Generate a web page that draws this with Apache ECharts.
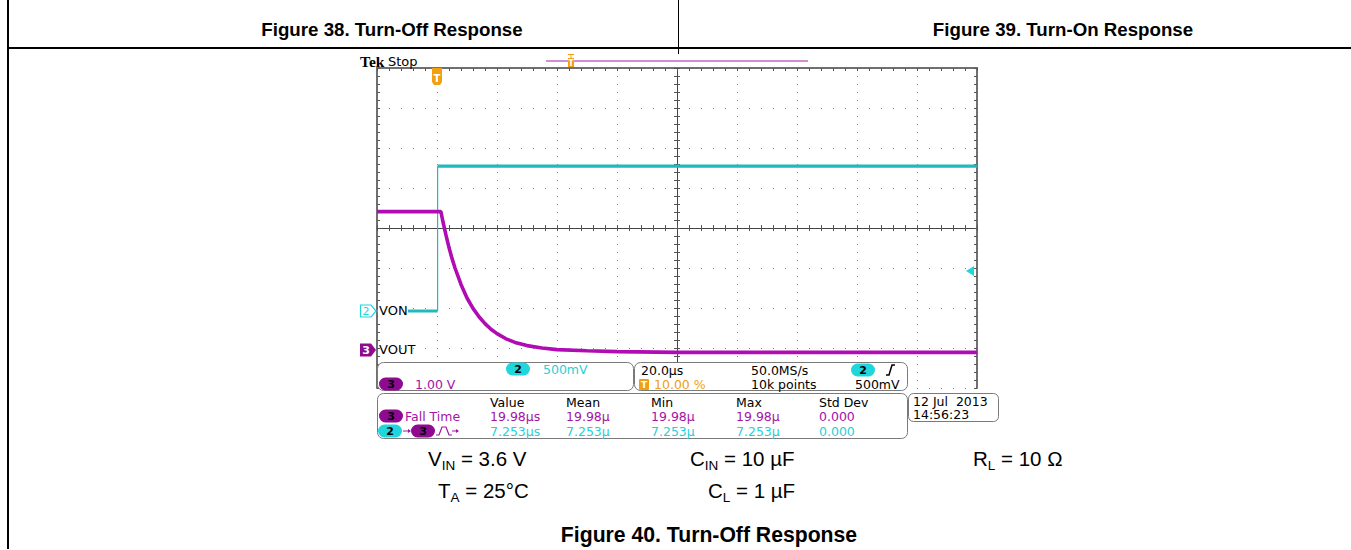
<!DOCTYPE html>
<html>
<head>
<meta charset="utf-8">
<script src="https://cdn.jsdelivr.net/npm/echarts@6/dist/echarts.min.js"></script>
<style>
html,body{margin:0;padding:0;background:#fff;width:1351px;height:550px;overflow:hidden;}
#chart{position:absolute;left:0;top:0;width:1351px;height:550px;}
.t{position:absolute;white-space:nowrap;font-family:"Liberation Sans",Arial,sans-serif;color:#000;line-height:1;}
.b{font-weight:bold;transform:translate(-50%,-50%);}
.h{font-size:18.7px;}
.f{font-size:21.2px;}
.p{font-size:20.5px;transform:translateY(-50%);}
.p sub{font-size:13.5px;vertical-align:-4px;line-height:0;}
.ln{position:absolute;background:#000;}
</style>
</head>
<body>
<div id="chart"></div>
<div class="ln" style="left:7px;top:0;width:2px;height:549px"></div>
<div class="ln" style="left:7px;top:47px;width:1344px;height:2px"></div>
<div class="ln" style="left:678px;top:0;width:1px;height:54px"></div>
<div class="t b h" style="left:392px;top:30px">Figure 38. Turn-Off Response</div>
<div class="t b h" style="left:1063px;top:30px">Figure 39. Turn-On Response</div>
<div class="t p" style="left:428px;top:459px">V<sub>IN</sub> = 3.6 V</div>
<div class="t p" style="left:690px;top:459px">C<sub>IN</sub> = 10 µF</div>
<div class="t p" style="left:973px;top:459px">R<sub>L</sub> = 10 Ω</div>
<div class="t p" style="left:438px;top:491px">T<sub>A</sub> = 25°C</div>
<div class="t p" style="left:708px;top:491px">C<sub>L</sub> = 1 µF</div>
<div class="t b f" style="left:709px;top:535px">Figure 40. Turn-Off Response</div>
<script>
// ---- data read from the scope screen ----
// time in microseconds relative to trigger (20 us/div, trigger at 10 %)
const vonTime  = [-20, 0.2, 0.2, 180];
const vonVolts = [0.0, 0.0, 1.81, 1.81];          // CH2, 500 mV/div
const voutTime  = [-20, 1.3, 2, 3, 4, 5, 6, 8, 10, 12, 14, 16, 18, 20, 23, 26, 30, 35, 40, 50, 60, 80, 180];
const voutVolts = [3.46, 3.46, 3.20, 2.87, 2.56, 2.29, 2.05, 1.64, 1.30, 1.04, 0.83, 0.66, 0.52, 0.41, 0.28, 0.19, 0.11, 0.05, 0.01, -0.02, -0.04, -0.06, -0.06]; // CH3, 1 V/div
const trigLevelVolts = 0.5;
const chLabels = ['VON', 'VOUT'];
const scaleText = ['500mV', '1.00 V'];
const horizText = ['20.0µs', '50.0MS/s', '10.00 %', '10k points', '500mV'];
const measHeader = ['Value', 'Mean', 'Min', 'Max', 'Std Dev'];
const measRow1 = ['19.98µs', '19.98µ', '19.98µ', '19.98µ', '0.000'];
const measRow2 = ['7.253µs', '7.253µ', '7.253µ', '7.253µ', '0.000'];
const dateText = ['12 Jul  2013', '14:56:23'];

const CYAN = '#22b9bd', CYAN_T = '#1fd0da', CYAN_P = '#1ed6dc';
const MAG = '#b00cb4', MAG_T = '#a412a6', MAG_P = '#8e0a90';
const ORANGE = '#f0a010';
const GRID = {left: 377, top: 68, width: 600, height: 320};
const MONO = '"DejaVu Sans", Verdana, sans-serif';
const FS = '12.5px ';

const chart = echarts.init(document.getElementById('chart'), null, {renderer: 'svg'});

const borderColor = '#707070';
const dotColor = '#8a8a8a';
const off = {show: false};
function divAxis(extra) {
  return Object.assign({type: 'value', axisLabel: off, splitLine: off, axisTick: off, minorTick: off,
    axisLine: {show: false, onZero: false}, splitArea: off}, extra);
}
const tickStyle = {color: '#555', width: 1};

const xAxis = [
  divAxis({min: -5, max: 5, interval: 1, position: 'bottom',
    splitLine: {show: true, lineStyle: {color: dotColor, width: 1, type: [1, 7]}}}),
  divAxis({min: -5, max: 5, interval: 1, position: 'top',
    axisLine: {show: true, onZero: false, lineStyle: {color: borderColor, width: 2}},
    axisTick: {show: true, inside: true, length: 3, lineStyle: tickStyle},
    minorTick: {show: true, splitNumber: 5, length: 3, lineStyle: tickStyle}}),
  divAxis({min: -5, max: 5, interval: 1, position: 'bottom',
    axisLine: {show: true, onZero: true, onZeroAxisIndex: 0, lineStyle: {color: '#444', width: 1}},
    axisTick: {show: true, inside: true, length: 3, lineStyle: tickStyle},
    minorTick: {show: true, splitNumber: 5, length: 3, lineStyle: tickStyle}}),
  divAxis({min: -5, max: 5, interval: 1, position: 'bottom',
    axisLine: {show: false, onZero: true, onZeroAxisIndex: 0},
    axisTick: {show: true, inside: false, length: 3, lineStyle: tickStyle},
    minorTick: {show: true, splitNumber: 5, length: 3, lineStyle: tickStyle}}),
  {type: 'value', min: -20, max: 180, show: false}
];
const yAxis = [
  divAxis({min: -4, max: 4, interval: 1, position: 'left',
    axisLine: {show: true, onZero: false, lineStyle: {color: borderColor, width: 2}},
    axisTick: {show: true, inside: true, length: 3, lineStyle: tickStyle},
    minorTick: {show: true, splitNumber: 5, length: 3, lineStyle: tickStyle},
    splitLine: {show: true, lineStyle: {color: dotColor, width: 1, type: [1, 11]}}}),
  divAxis({min: -4, max: 4, interval: 1, position: 'right',
    axisLine: {show: true, onZero: false, lineStyle: {color: borderColor, width: 2}},
    axisTick: {show: true, inside: true, length: 3, lineStyle: tickStyle},
    minorTick: {show: true, splitNumber: 5, length: 3, lineStyle: tickStyle}}),
  divAxis({min: -4, max: 4, interval: 1, position: 'left',
    axisLine: {show: true, onZero: true, onZeroAxisIndex: 0, lineStyle: {color: '#444', width: 1}},
    axisTick: {show: true, inside: true, length: 3, lineStyle: tickStyle},
    minorTick: {show: true, splitNumber: 5, length: 3, lineStyle: tickStyle}}),
  divAxis({min: -4, max: 4, interval: 1, position: 'left',
    axisLine: {show: false, onZero: true, onZeroAxisIndex: 0},
    axisTick: {show: true, inside: false, length: 3, lineStyle: tickStyle},
    minorTick: {show: true, splitNumber: 5, length: 3, lineStyle: tickStyle}}),
  // CH2: 0.5 V/div, ground 2.075 div below centre
  {type: 'value', min: -0.9625, max: 3.0375, show: false},
  // CH3: 1 V/div, ground 3.05 div below centre
  {type: 'value', min: -0.95, max: 7.05, show: false}
];

// split the VON trace: noisy flat levels drawn thick, the fast edge drawn thin
const vonPts = vonTime.map((t, i) => [t, vonVolts[i]]);
const vonLevels = [], vonEdge = [];
vonPts.forEach((p, i) => {
  vonLevels.push(p);
  if (i < vonPts.length - 1 && vonPts[i + 1][0] === p[0]) {
    vonLevels.push([p[0], null]);
    vonEdge.push(p, vonPts[i + 1]);
  }
});

const option = {
  animation: false,
  backgroundColor: 'transparent',
  grid: Object.assign({containLabel: false}, GRID),
  xAxis: xAxis,
  yAxis: yAxis,
  series: [
    {name: 'VON', type: 'line', xAxisIndex: 4, yAxisIndex: 4, showSymbol: false, z: 5, connectNulls: false,
      lineStyle: {color: CYAN, width: 3.2}, data: vonLevels},
    {name: 'VON edge', type: 'line', xAxisIndex: 4, yAxisIndex: 4, showSymbol: false, z: 5,
      lineStyle: {color: CYAN, width: 1.2}, data: vonEdge},
    {name: 'VOUT', type: 'line', xAxisIndex: 4, yAxisIndex: 5, showSymbol: false, z: 6,
      lineStyle: {color: MAG, width: 3.6}, data: voutTime.map((t, i) => [t, voutVolts[i]])}
  ]
};
chart.setOption(option);

// ---------- scope UI overlay ----------
const g = [];
function txt(x, y, s, color, opts) {
  g.push(Object.assign({type: 'text', x: x, y: y, z: 20, style: Object.assign({text: s, fill: color || '#000',
    font: FS + MONO, textVerticalAlign: 'middle', verticalAlign: 'middle'}, (opts && opts.style) || {})},
    opts && opts.el || {}));
}
function box(x, y, w, h, r) {
  g.push({type: 'rect', z: 15, shape: {x: x + 0.5, y: y + 0.5, width: w, height: h, r: r},
    style: {fill: '#fff', stroke: '#7a7a7a', lineWidth: 1}});
}
function pill(cx, cy, label, fill, tc) {
  g.push({type: 'rect', z: 18, shape: {x: cx - 12, y: cy - 6.5, width: 24, height: 13, r: 6.5}, style: {fill: fill}});
  g.push({type: 'text', z: 19, x: cx, y: cy, style: {text: label, fill: tc, font: 'bold 11px ' + MONO,
    align: 'center', verticalAlign: 'middle', textAlign: 'center', textVerticalAlign: 'middle'}});
}

// header "Tek Stop"
txt(360, 61, 'Tek', '#000', {style: {font: 'bold 15.5px "Liberation Serif", serif'}});
txt(388, 61, 'Stop', '#000', {style: {font: '13px ' + MONO}});
// record bar
g.push({type: 'line', z: 10, shape: {x1: 546, y1: 61, x2: 808, y2: 61}, style: {stroke: '#d48ed4', lineWidth: 2}});
g.push({type: 'rect', z: 11, shape: {x: 568, y: 58, width: 6, height: 9}, style: {fill: ORANGE}});
g.push({type: 'line', z: 11, shape: {x1: 571, y1: 54, x2: 571, y2: 58}, style: {stroke: ORANGE, lineWidth: 1}});
g.push({type: 'line', z: 11, shape: {x1: 568, y1: 54.5, x2: 574, y2: 54.5}, style: {stroke: ORANGE, lineWidth: 1}});
g.push({type: 'text', z: 12, x: 571, y: 63, style: {text: 'T', fill: '#fff', font: 'bold 8px ' + MONO,
  align: 'center', verticalAlign: 'middle', textAlign: 'center', textVerticalAlign: 'middle'}});

// trigger position marker, channel ground markers, trigger level arrow (placed through the axes)
const trigX = chart.convertToPixel({xAxisIndex: 4}, 0);
g.push({type: 'polygon', z: 12, shape: {points: [[trigX - 5, 68], [trigX + 5, 68], [trigX + 5, 82], [trigX + 3, 85], [trigX - 3, 85], [trigX - 5, 82]]},
  style: {fill: ORANGE}});
g.push({type: 'text', z: 13, x: trigX, y: 78, style: {text: 'T', fill: '#fff', font: 'bold 10px ' + MONO,
  align: 'center', verticalAlign: 'middle', textAlign: 'center', textVerticalAlign: 'middle'}});

const ch2Y = chart.convertToPixel({yAxisIndex: 4}, 0);
const ch3Y = chart.convertToPixel({yAxisIndex: 5}, 0);
const lvlY = chart.convertToPixel({yAxisIndex: 4}, trigLevelVolts);
g.push({type: 'polygon', z: 12, shape: {points: [[360.5, ch2Y - 6], [371, ch2Y - 6], [376, ch2Y], [371, ch2Y + 6], [360.5, ch2Y + 6]]},
  style: {fill: '#fff', stroke: CYAN_P, lineWidth: 1.2}});
g.push({type: 'text', z: 13, x: 366, y: ch2Y, style: {text: '2', fill: CYAN_P, font: '11px ' + MONO,
  align: 'center', verticalAlign: 'middle', textAlign: 'center', textVerticalAlign: 'middle'}});
g.push({type: 'rect', z: 12, shape: {x: 378, y: ch2Y - 8, width: 30, height: 15}, style: {fill: '#fff'}});
txt(379, ch2Y - 1, chLabels[0], '#000', {style: {font: '13px ' + MONO}});
g.push({type: 'polygon', z: 12, shape: {points: [[360, ch3Y - 6.5], [371, ch3Y - 6.5], [376, ch3Y], [371, ch3Y + 6.5], [360, ch3Y + 6.5]]},
  style: {fill: MAG_P}});
g.push({type: 'text', z: 13, x: 366, y: ch3Y, style: {text: '3', fill: '#fff', font: 'bold 11px ' + MONO,
  align: 'center', verticalAlign: 'middle', textAlign: 'center', textVerticalAlign: 'middle'}});
txt(379, ch3Y - 1, chLabels[1], '#000', {style: {font: '13px ' + MONO}});
g.push({type: 'polygon', z: 12, shape: {points: [[966, lvlY], [974, lvlY - 5], [974, lvlY + 5]]}, style: {fill: CYAN_P}});

// readout box A (vertical scales)
box(377, 362, 256, 28, 6);
pill(518, 369, '2', CYAN_P, '#000');
txt(543, 369, scaleText[0], CYAN_T);
pill(391, 384, '3', MAG_P, '#000');
txt(415, 384, scaleText[1], MAG_T);
// readout box B (horizontal / trigger)
box(634, 362, 273, 28, 6);
txt(641, 370, horizText[0], '#000');
txt(751, 370, horizText[1], '#000');
pill(863, 370, '2', CYAN_P, '#000');
g.push({type: 'polyline', z: 18, shape: {points: [[886, 375], [889, 375], [892, 365], [895, 365]]}, style: {stroke: '#000', lineWidth: 1.5, fill: null}});
g.push({type: 'rect', z: 18, shape: {x: 639, y: 379, width: 10, height: 11, r: 1}, style: {fill: ORANGE}});
g.push({type: 'text', z: 19, x: 644, y: 384.5, style: {text: 'T', fill: '#fff', font: 'bold 9px ' + MONO,
  align: 'center', verticalAlign: 'middle', textAlign: 'center', textVerticalAlign: 'middle'}});
txt(654, 384, horizText[2], ORANGE);
txt(751, 384, horizText[3], '#000');
txt(855, 384, horizText[4], '#000');
// measurement box C
box(377, 393, 530, 45, 6);
const colX = [490, 566, 651, 736, 819];
measHeader.forEach((s, i) => txt(colX[i], 402, s, '#000'));
pill(391, 416, '3', MAG_P, '#000');
txt(405, 416, 'Fall Time', MAG_T);
measRow1.forEach((s, i) => txt(colX[i], 416.5, s, MAG_T));
pill(390, 431, '2', CYAN_P, '#000');
g.push({type: 'line', z: 18, shape: {x1: 403, y1: 431, x2: 410, y2: 431}, style: {stroke: MAG_T, lineWidth: 1}});
g.push({type: 'polygon', z: 18, shape: {points: [[411, 431], [408, 429], [408, 433]]}, style: {fill: MAG_T}});
pill(423, 431, '3', MAG_P, '#000');
g.push({type: 'polyline', z: 18, shape: {points: [[436, 435], [439, 435], [442, 427], [446, 427], [449, 435], [452, 435]]}, style: {stroke: MAG_T, lineWidth: 1.2, fill: null}});
g.push({type: 'line', z: 18, shape: {x1: 452, y1: 431, x2: 458, y2: 431}, style: {stroke: MAG_T, lineWidth: 1}});
g.push({type: 'polygon', z: 18, shape: {points: [[459, 431], [456, 429], [456, 433]]}, style: {fill: MAG_T}});
measRow2.forEach((s, i) => txt(colX[i], 431.5, s, CYAN_T));
// date box D
box(908, 393, 90, 28, 5);
txt(913, 401, dateText[0], '#000');
txt(913, 414, dateText[1], '#000');

chart.setOption({graphic: {elements: g}});
</script>
</body>
</html>
